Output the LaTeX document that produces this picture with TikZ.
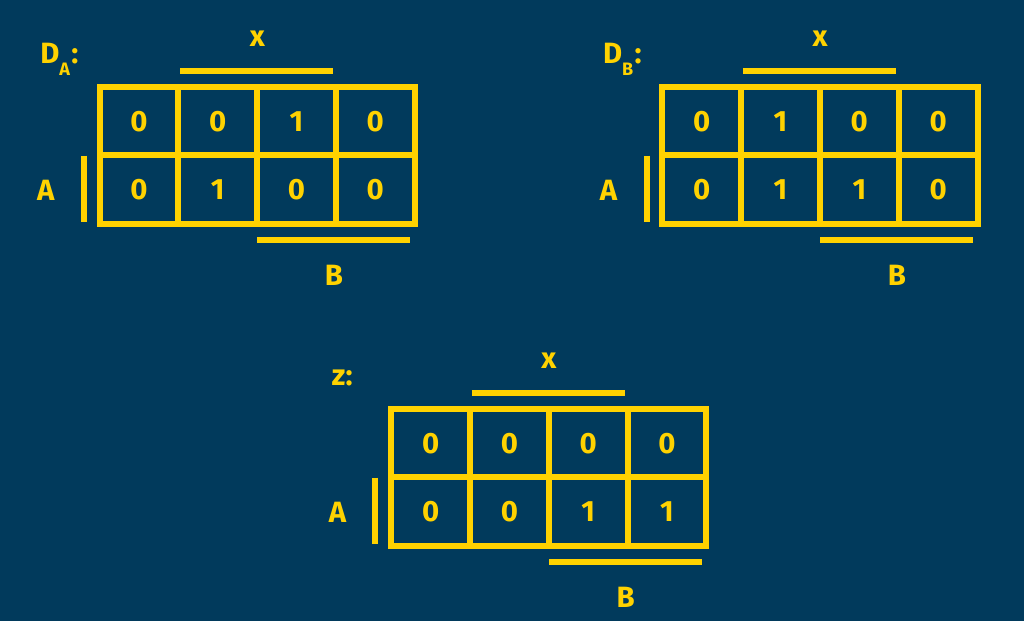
\documentclass[tikz,border=0pt]{standalone}
\usepackage{fontspec}
\setmainfont{Fira Sans}
\definecolor{bg}{RGB}{1,58,92}
\definecolor{kyel}{RGB}{255,210,0}
\tikzset{
  gridline/.style={draw=kyel, line width=4.5pt},
  bar/.style={draw=kyel, line width=4.5pt},
  cell/.style={text=kyel, font=\fontsize{22}{25}\selectfont\bfseries, inner sep=0pt, anchor=center},
  lbl/.style={text=kyel, font=\fontsize{22}{25}\selectfont\bfseries, inner sep=0pt},
}
\newcommand{\kmap}[6]{%
\begin{scope}[shift={(#2,#3)}]
  \draw[gridline] (0,0) rectangle (315.2,136.7);
  \draw[gridline] (0,68.35) -- (315.2,68.35);
  \foreach \i in {1,2,3} \draw[gridline] (\i*78.8,0) -- (\i*78.8,136.7);
  \foreach \v [count=\c] in {#5} \node[cell] (#1-r1-c\c) at ({(\c-0.5)*78.8},34.2) {\v};
  \foreach \v [count=\c] in {#6} \node[cell] (#1-r2-c\c) at ({(\c-0.5)*78.8},102.5) {\v};
  \draw[bar] (80.5,-16.3) -- (233.8,-16.3);
  \node[lbl] (#1-x) at (157.8,-48) {x};
  \draw[bar] (157.8,152.7) -- (310.5,152.7);
  \node[lbl] (#1-B) at (234.5,188) {B};
  \draw[bar] (-15.8,68.7) -- (-15.8,135.3);
  \node[lbl] (#1-A) at (-53.8,103) {A};
  \node[lbl, anchor=base west] (#1-title) at (-59.5,-23.7) {#4};
\end{scope}}
\begin{document}
\begin{tikzpicture}[x=0.75pt,y=-0.75pt]
  \fill[bg] (0,0) rectangle (1024,621);
  \useasboundingbox (0,0) rectangle (1024,621);
  \kmap{da}{99.5}{87}{D\raisebox{-9.5pt}{\fontsize{13.5}{14}\selectfont A}\kern1pt:}{0,0,1,0}{0,1,0,0}
  \kmap{db}{662.3}{87}{D\raisebox{-9.5pt}{\fontsize{13.5}{14}\selectfont B}\kern1pt:}{0,1,0,0}{0,1,1,0}
  \kmap{z}{391.2}{409}{z:}{0,0,0,0}{0,0,1,1}
\end{tikzpicture}
\end{document}
